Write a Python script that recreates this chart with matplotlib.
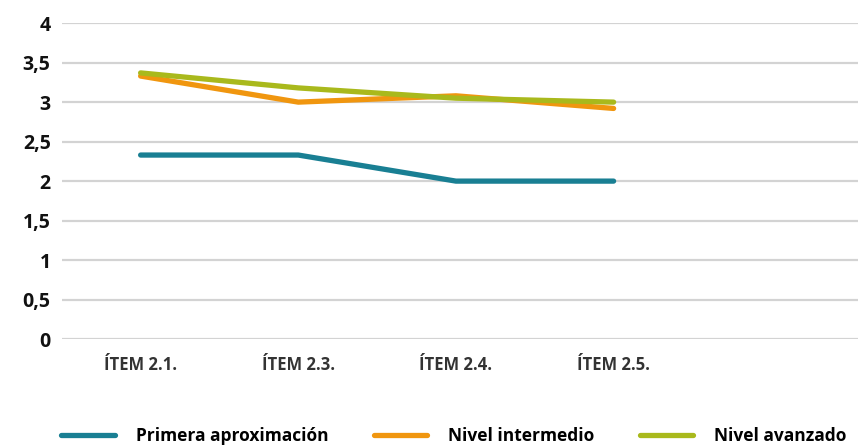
import matplotlib
matplotlib.use("Agg")
import matplotlib.pyplot as plt

categories = ["ÍTEM 2.1.", "ÍTEM 2.3.", "ÍTEM 2.4.", "ÍTEM 2.5."]
primera = [2.33, 2.33, 2.0, 2.0]
intermedio = [3.33, 3.0, 3.08, 2.92]
avanzado = [3.37, 3.18, 3.05, 3.0]
yticks = [0, 0.5, 1, 1.5, 2, 2.5, 3, 3.5, 4]
ylabels = ["0", "0,5", "1", "1,5", "2", "2,5", "3", "3,5", "4"]

plt.rcParams['font.family'] = ['Open Sans', 'DejaVu Sans']

fig = plt.figure(figsize=(8.58, 4.45), dpi=100)
ax = fig.add_axes([0.072, 0.238, 0.928, 0.710])

x = list(range(len(categories)))
ax.plot(x, primera, color='#197f93', lw=3.8, solid_capstyle='round', label="Primera aproximación")
ax.plot(x, intermedio, color='#f0960f', lw=3.8, solid_capstyle='round', label="Nivel intermedio")
ax.plot(x, avanzado, color='#a9b91c', lw=3.8, solid_capstyle='round', label="Nivel avanzado")

ax.set_ylim(0, 4)
ax.set_xlim(-0.5, 4.55)
ax.set_yticks(yticks)
ax.set_yticklabels(ylabels, fontsize=14, fontweight='bold', color='#111111')
ax.set_xticks(x)
ax.set_xticklabels(categories, fontsize=12, fontweight='bold', color='#333333')
ax.tick_params(axis='y', length=0, pad=8)
ax.tick_params(axis='x', length=0, pad=12)
ax.grid(axis='y', color='#d3d3d3', lw=1.6)
ax.set_axisbelow(True)
for s in ax.spines.values():
    s.set_visible(False)

fig.legend(loc='center', ncol=3, bbox_to_anchor=(0.529, 0.02), frameon=False,
           handlelength=3.1, columnspacing=2.6, handletextpad=1.2,
           prop={'size': 12.5, 'weight': 'bold'})

fig.savefig("out.png", dpi=100)
